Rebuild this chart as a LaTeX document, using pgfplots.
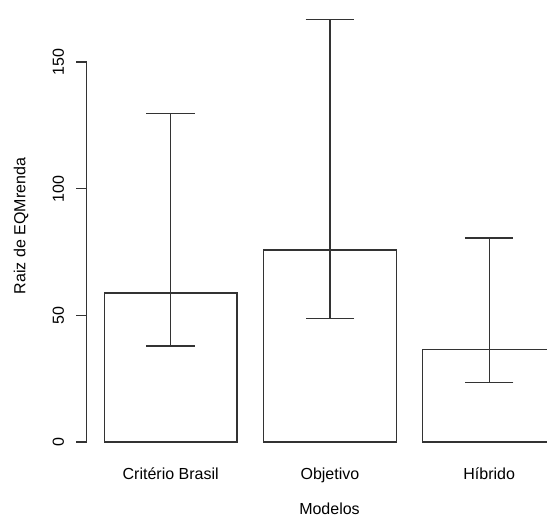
\documentclass[border=0pt]{standalone}
\usepackage{fontspec}
\setmainfont{Liberation Sans}
\usepackage{pgfplots}
\pgfplotsset{compat=1.18}
\begin{document}
\fontsize{16}{19}\selectfont
\begin{tikzpicture}[x=1pt,y=1pt]
\clip (0,0) rectangle (547,516);
\begin{axis}[
  at={(86.7pt,56.8pt)}, anchor=south west,
  x=132.7pt, y=2.533pt,
  xmin=0.067, xmax=3.536, ymin=-6.8, ymax=174.5,
  clip=false,
  axis x line*=bottom, axis y line*=left,
  x axis line style={draw=none}, y axis line style={draw=none},
  xtick={0.7,1.9,3.1}, xticklabels={Critério Brasil,Objetivo,Híbrido},
  xtick style={draw=none},
  ytick={0,50,100,150},
  tick align=outside, major tick length=10.4pt,
  ytick style={draw=black!80, line width=1.3pt},
  every tick label/.append style={font=\fontsize{16}{19}\selectfont},
  yticklabel style={rotate=90, anchor=base, yshift=12.3pt},
  xticklabel style={anchor=base, yshift=-10.4pt},
  /pgf/number format/assume math mode=true,
]
\draw[black!80, line width=1.3pt] (axis cs:0.067,0) -- (axis cs:0.067,150);
\addplot[ybar, bar width=132.7pt, fill=white, draw=black!80, line width=1.3pt,
  error bars/.cd, y dir=both, y explicit,
  error bar style={draw=black!80, line width=1.3pt},
  error mark options={rotate=90, draw=black!80, line width=1.3pt, mark size=24.3pt}]
coordinates {
  (0.7,58.8) += (0,70.8) -= (0,20.9)
  (1.9,75.8) += (0,91.0) -= (0,27.0)
  (3.1,36.5) += (0,44.0) -= (0,13.0)
};
\end{axis}
\node[anchor=base, font=\fontsize{16}{19}\selectfont] at (329.5,1.5) {Modelos};
\node[rotate=90, anchor=base, font=\fontsize{16}{19}\selectfont] at (25.3,290) {Raiz de EQMrenda};
\end{tikzpicture}
\end{document}
